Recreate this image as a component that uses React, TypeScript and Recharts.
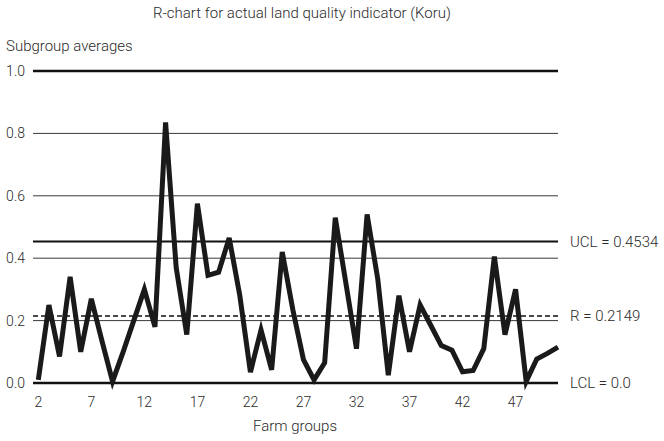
import React from 'react';
import { LineChart, Line, XAxis, YAxis, ReferenceLine, Label } from 'recharts';

const farmGroups = [
  2, 3, 4, 5, 6, 7, 8, 9, 10, 11, 12, 13, 14, 15, 16, 17, 18, 19, 20, 21,
  22, 23, 24, 25, 26, 27, 28, 29, 30, 31, 32, 33, 34, 35, 36, 37, 38, 39, 40, 41,
  42, 43, 44, 45, 46, 47, 48, 49, 50, 51,
];

const subgroupValues = [
  0.01, 0.25, 0.085, 0.34, 0.10, 0.27, 0.135, 0.005, 0.10, 0.20,
  0.30, 0.18, 0.835, 0.37, 0.155, 0.575, 0.345, 0.355, 0.465, 0.28,
  0.035, 0.17, 0.042, 0.42, 0.235, 0.075, 0.01, 0.065, 0.53, 0.32,
  0.11, 0.54, 0.335, 0.025, 0.28, 0.10, 0.25, 0.185, 0.12, 0.105,
  0.036, 0.04, 0.11, 0.405, 0.155, 0.30, 0.005, 0.077, 0.095, 0.115,
];

const xTicks = [2, 7, 12, 17, 22, 27, 32, 37, 42, 47];
const yTicks = [0, 0.2, 0.4, 0.6, 0.8, 1.0];
const gridValues = [0.2, 0.4, 0.6, 0.8];

const UCL = 0.4534;
const RBAR = 0.2149;
const LCL = 0.0;
const TOP = 1.0;

const title = 'R-chart for actual land quality indicator (Koru)';
const yTitle = 'Subgroup averages';
const xTitle = 'Farm groups';

const data = farmGroups.map((g, i) => ({ group: g, value: subgroupValues[i] }));

const FONT = 'Roboto, "Liberation Sans", sans-serif';
const TEXT_COLOR = '#2a2a2a';

const XTick = (props: any) => {
  const { x, payload } = props;
  return (
    <text x={x} y={407} textAnchor="middle" fontSize={14} fontFamily={FONT} fontWeight={300} fill={TEXT_COLOR}>
      {payload.value}
    </text>
  );
};

const YTick = (props: any) => {
  const { y, payload } = props;
  return (
    <text x={25} y={y} dy={5} textAnchor="end" fontSize={14} fontFamily={FONT} fontWeight={300} fill={TEXT_COLOR}>
      {Number(payload.value).toFixed(1)}
    </text>
  );
};

const rightLabel = (text: string) => (
  <Label
    value={text}
    position="right"
    offset={12}
    fontSize={15}
    fontFamily={FONT}
    fontWeight={300}
    fill={TEXT_COLOR}
  />
);

export default function App() {
  return (
    <div style={{ position: 'absolute', left: 0, top: 0, width: 664, height: 441, background: '#fff', fontFamily: FONT }}>
      <div
        style={{
          position: 'absolute', left: 0, top: 4, width: 604, textAlign: 'center',
          fontSize: 15, lineHeight: '18px', color: TEXT_COLOR, fontWeight: 300,
        }}
      >
        {title}
      </div>
      <div
        style={{
          position: 'absolute', left: 6, top: 37, fontSize: 15, lineHeight: '18px',
          color: TEXT_COLOR, fontWeight: 300, whiteSpace: 'nowrap',
        }}
      >
        {yTitle}
      </div>
      <div
        style={{
          position: 'absolute', left: 195, top: 417, width: 200, textAlign: 'center',
          fontSize: 15, lineHeight: '18px', color: TEXT_COLOR, fontWeight: 300,
        }}
      >
        {xTitle}
      </div>
      <LineChart
        width={664}
        height={441}
        data={data}
        margin={{ top: 71, right: 106, bottom: 28, left: 0 }}
      >
        <XAxis
          dataKey="group"
          type="number"
          domain={[1.5, 51]}
          ticks={xTicks}
          axisLine={false}
          tickLine={false}
          height={30}
          tick={<XTick />}
          interval={0}
        />
        <YAxis
          type="number"
          domain={[0, 1]}
          ticks={yTicks}
          axisLine={false}
          tickLine={false}
          width={33}
          tick={<YTick />}
          interval={0}
        />
        {gridValues.map((v) => (
          <ReferenceLine key={v} y={v} stroke="#3a3a3a" strokeWidth={1} />
        ))}
        <ReferenceLine y={TOP} stroke="#111" strokeWidth={2.5} />
        <ReferenceLine y={UCL} stroke="#111" strokeWidth={2}>
          {rightLabel('UCL = 0.4534')}
        </ReferenceLine>
        <ReferenceLine y={RBAR} stroke="#111" strokeWidth={1.5} strokeDasharray="5 3">
          {rightLabel('R = 0.2149')}
        </ReferenceLine>
        <ReferenceLine y={LCL} stroke="#111" strokeWidth={2.5}>
          {rightLabel('LCL = 0.0')}
        </ReferenceLine>
        <Line
          type="linear"
          dataKey="value"
          stroke="#1a1a1a"
          strokeWidth={5}
          dot={false}
          isAnimationActive={false}
        />
      </LineChart>
    </div>
  );
}
